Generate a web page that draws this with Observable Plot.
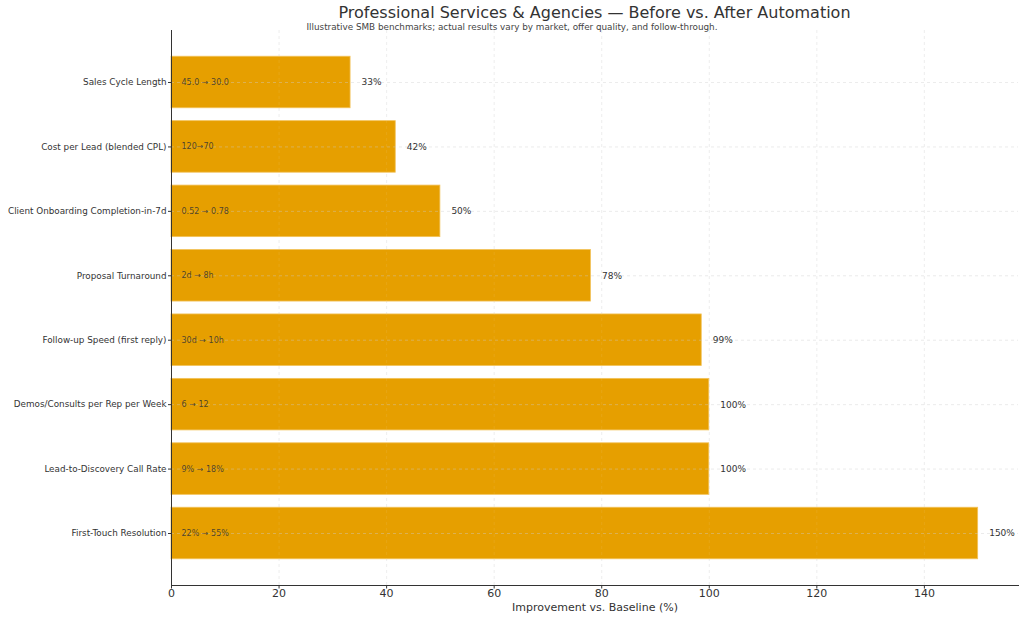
<!DOCTYPE html>
<html>
<head>
<meta charset="utf-8">
<script src="https://cdn.jsdelivr.net/npm/d3@7"></script>
<script src="https://cdn.jsdelivr.net/npm/@observablehq/plot@0.6"></script>
<style>
  html, body { margin: 0; padding: 0; background: #fff; }
  #wrap { position: relative; width: 1024px; padding-top: 30px; font-family: "DejaVu Sans", sans-serif; color: #333; }
  #title { position: absolute; left: 0; top: 3px; width: 1024px; height: 20px; line-height: 20px; font-size: 16px; text-align: center; padding-left: 165px; box-sizing: border-box; color: #333; white-space: nowrap; }
  #subtitle { position: absolute; left: 0; top: 22px; width: 1024px; height: 10px; line-height: 10px; font-size: 8.8px; text-align: center; color: #444; white-space: nowrap; }
</style>
</head>
<body>
<div id="wrap">
  <div id="title">Professional Services &amp; Agencies — Before vs. After Automation</div>
  <div id="subtitle">Illustrative SMB benchmarks; actual results vary by market, offer quality, and follow-through.</div>
  <div id="chart"></div>
</div>
<script>
const categories = [
  "Sales Cycle Length",
  "Cost per Lead (blended CPL)",
  "Client Onboarding Completion-in-7d",
  "Proposal Turnaround",
  "Follow-up Speed (first reply)",
  "Demos/Consults per Rep per Week",
  "Lead-to-Discovery Call Rate",
  "First-Touch Resolution"
];
const improvement = [33.3, 41.7, 50, 78, 98.6, 100, 100, 150];
const valueLabels = ["33%", "42%", "50%", "78%", "99%", "100%", "100%", "150%"];
const beforeAfter = ["45.0 → 30.0", "120→70", "0.52 → 0.78", "2d → 8h", "30d → 10h", "6 → 12", "9% → 18%", "22% → 55%"];
const xTicks = [0, 20, 40, 60, 80, 100, 120, 140];
const xLabel = "Improvement vs. Baseline (%)";

const data = categories.map((c, i) => ({
  metric: c, value: improvement[i], pct: valueLabels[i], ba: beforeAfter[i]
}));

const chart = Plot.plot({
  width: 1024,
  height: 589,
  marginTop: 0,
  marginBottom: 34,
  marginLeft: 171,
  marginRight: 6,
  style: { fontFamily: "DejaVu Sans, sans-serif", color: "#333", background: "#fff" },
  x: { domain: [0, 157.5] },
  y: { domain: categories, paddingInner: 0.2, paddingOuter: 0.407, round: false },
  marks: [
    Plot.gridX(xTicks, { stroke: "#ccc", strokeOpacity: 0.35, strokeDasharray: "3,3" }),
    Plot.barX(data, { x: "value", y: "metric", fill: "#E69F00", stroke: "#f2c25a", strokeWidth: 0.8 }),
    Plot.gridX(xTicks, { stroke: "#fff", strokeOpacity: 0.08, strokeDasharray: "3,3" }),
    Plot.gridY(categories, { stroke: "#ccc", strokeOpacity: 0.4, strokeDasharray: "3,3" }),
    Plot.text(data, { x: 0, y: "metric", text: "ba", dx: 10, textAnchor: "start", fontSize: 8, fill: "#333", fillOpacity: 0.85 }),
    Plot.text(data, { x: "value", y: "metric", text: "pct", dx: 11, textAnchor: "start", fontSize: 9, fill: "#333" }),
    Plot.axisX(xTicks, { tickSize: 3.5, tickPadding: 0.5, fontSize: 11, label: null, stroke: "#333" }),
    Plot.axisY({ tickSize: 3, tickPadding: 2, fontSize: 8.8, label: null }),
    Plot.ruleX([0], { stroke: "#333", strokeWidth: 1 }),
    Plot.frame({ anchor: "bottom", stroke: "#333", strokeWidth: 1 }),
    Plot.text([xLabel], { frameAnchor: "bottom", dy: 25, fontSize: 11, fill: "#333" })
  ]
});
document.getElementById("chart").appendChild(chart);
</script>
</body>
</html>
